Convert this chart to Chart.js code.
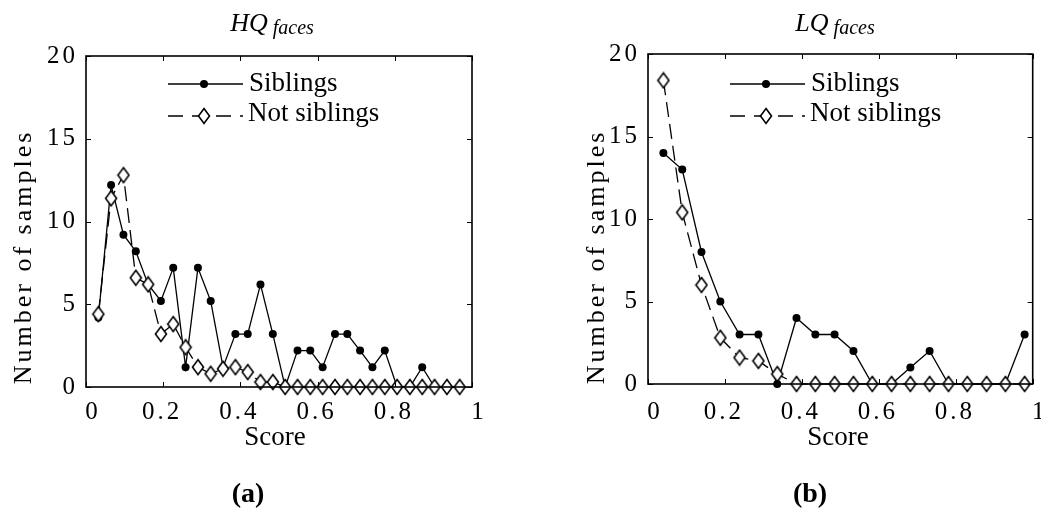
<!DOCTYPE html>
<html>
<head>
<meta charset="utf-8">
<script src="https://cdn.jsdelivr.net/npm/chart.js@4.4.1/dist/chart.umd.min.js"></script>
<style>
  html, body { margin: 0; padding: 0; background: #fff; }
  #wrap { position: relative; width: 1041px; height: 512px; overflow: hidden; }
  canvas { position: absolute; top: 0; }
  #hqChart { left: 0; }
  #lqChart { left: 520px; }
</style>
</head>
<body>
<div id="wrap">
  <canvas id="hqChart" width="520" height="512"></canvas>
  <canvas id="lqChart" width="521" height="512"></canvas>
</div>
<script>
// high quality faces: score bins and counts
var hqScores = [0.032, 0.065, 0.097, 0.129, 0.161, 0.194, 0.226, 0.258, 0.290, 0.323,
                0.355, 0.387, 0.419, 0.452, 0.484, 0.516, 0.548, 0.581, 0.613, 0.645,
                0.677, 0.710, 0.742, 0.774, 0.806, 0.839, 0.871, 0.903, 0.935, 0.968];
var hqSiblings = [4.2, 12.2, 9.2, 8.2, 6.2, 5.2, 7.2, 1.2, 7.2, 5.2,
                  1.2, 3.2, 3.2, 6.2, 3.2, 0, 2.2, 2.2, 1.2, 3.2,
                  3.2, 2.2, 1.2, 2.2, 0, 0, 1.2, 0, 0, 0];
var hqNotSiblings = [4.4, 11.4, 12.8, 6.6, 6.2, 3.2, 3.8, 2.4, 1.2, 0.8,
                     1.1, 1.2, 0.9, 0.3, 0.3, 0, 0, 0, 0, 0,
                     0, 0, 0, 0, 0, 0, 0, 0, 0, 0];

// low quality faces
var lqScores = [0.040, 0.089, 0.139, 0.188, 0.238, 0.287, 0.336, 0.386, 0.435, 0.485,
                0.534, 0.583, 0.633, 0.682, 0.732, 0.781, 0.830, 0.880, 0.929, 0.979];
var lqSiblings = [14, 13, 8, 5, 3, 3, 0, 4, 3, 3, 2, 0, 0, 1, 2, 0, 0, 0, 0, 3];
var lqNotSiblings = [18.4, 10.4, 6.0, 2.8, 1.6, 1.4, 0.6, 0, 0, 0, 0, 0, 0, 0, 0, 0, 0, 0, 0, 0];

var xTicks = [0, 0.2, 0.4, 0.6, 0.8, 1];
var xTickLabels = ['0', '0.2', '0.4', '0.6', '0.8', '1'];
var yTicks = [0, 5, 10, 15, 20];
var yTickLabels = ['0', '5', '10', '15', '20'];
var seriesNames = ['Siblings', 'Not siblings'];

var SERIF = '"Liberation Serif", "Times New Roman", serif';

function toPoints(xs, ys) {
  return xs.map(function (x, i) { return { x: x, y: ys[i] }; });
}

// open diamond marker, slightly taller than wide
var diamond = document.createElement('canvas');
diamond.width = 14;
diamond.height = 18;
(function () {
  var c = diamond.getContext('2d');
  c.beginPath();
  c.moveTo(7, 1.5); c.lineTo(12.5, 9); c.lineTo(7, 16.5); c.lineTo(1.5, 9);
  c.closePath();
  c.fillStyle = '#fff';
  c.fill();
  c.lineWidth = 1.6;
  c.strokeStyle = '#000';
  c.stroke();
})();

// boxed axes with inward ticks, labels, titles and legend
var axesBox = {
  id: 'axesBox',
  afterDraw: function (chart, args, o) {
    var ctx = chart.ctx, a = chart.chartArea;
    var xs = chart.scales.x, ys = chart.scales.y;
    ctx.save();
    ctx.strokeStyle = '#000';
    ctx.fillStyle = '#000';
    ctx.lineWidth = 1.6;
    ctx.setLineDash([]);
    ctx.strokeRect(a.left, a.top, a.right - a.left, a.bottom - a.top);

    ctx.lineWidth = 1;
    ctx.beginPath();
    xTicks.forEach(function (v) {
      var px = Math.round(xs.getPixelForValue(v)) + 0.5;
      ctx.moveTo(px, a.bottom); ctx.lineTo(px, a.bottom - 5);
      ctx.moveTo(px, a.top); ctx.lineTo(px, a.top + 5);
    });
    yTicks.forEach(function (v) {
      var py = Math.round(ys.getPixelForValue(v)) + 0.5;
      ctx.moveTo(a.left, py); ctx.lineTo(a.left + 5, py);
      ctx.moveTo(a.right, py); ctx.lineTo(a.right - 5, py);
    });
    ctx.stroke();

    // tick labels
    ctx.font = '25px ' + SERIF;
    ctx.letterSpacing = '3px';
    ctx.textBaseline = 'middle';
    ctx.textAlign = 'center';
    xTicks.forEach(function (v, i) {
      var t = xTickLabels[i];
      var nudge = t.length === 1 ? 7 : -1;
      ctx.fillText(t, xs.getPixelForValue(v) + nudge, 412);
    });
    ctx.textAlign = 'right';
    yTicks.forEach(function (v, i) {
      ctx.fillText(yTickLabels[i], a.left - 8, ys.getPixelForValue(v));
    });

    // y title
    ctx.save();
    ctx.font = '26px ' + SERIF;
    ctx.letterSpacing = '3px';
    ctx.textAlign = 'center';
    ctx.translate(o.yTitleX, 257);
    ctx.rotate(-Math.PI / 2);
    ctx.fillText('Number of samples', 0, 0);
    ctx.restore();

    ctx.letterSpacing = '0px';
    ctx.textAlign = 'center';
    ctx.font = '27px ' + SERIF;
    ctx.fillText('Score', o.scoreX, 438);

    // panel letter
    ctx.font = 'bold 28px ' + SERIF;
    ctx.fillText(o.panel, o.panelX, 495);

    // italic title with subscript
    ctx.textBaseline = 'alphabetic';
    ctx.textAlign = 'left';
    ctx.font = 'italic 26px ' + SERIF;
    var w1 = ctx.measureText(o.title).width;
    ctx.font = 'italic 20px ' + SERIF;
    var w2 = ctx.measureText('faces').width;
    var tx = o.titleX - (w1 + 5 + w2) / 2;
    ctx.font = 'italic 26px ' + SERIF;
    ctx.fillText(o.title, tx, 31);
    ctx.font = 'italic 20px ' + SERIF;
    ctx.fillText('faces', tx + w1 + 5, 34);

    // legend
    var lx0 = o.legendX, lx1 = o.legendX + 75, mx = o.legendX + 36;
    ctx.lineWidth = 1.3;
    ctx.beginPath();
    ctx.moveTo(lx0, 84); ctx.lineTo(lx1, 84);
    ctx.stroke();
    ctx.beginPath();
    ctx.arc(mx, 84, 4, 0, Math.PI * 2);
    ctx.fill();
    ctx.setLineDash([15, 9]);
    ctx.beginPath();
    ctx.moveTo(lx0, 116); ctx.lineTo(lx1, 116);
    ctx.stroke();
    ctx.setLineDash([]);
    ctx.drawImage(diamond, mx - diamond.width / 2, 116 - diamond.height / 2);
    ctx.font = '27px ' + SERIF;
    ctx.textBaseline = 'middle';
    ctx.fillText(seriesNames[0], lx1 + 6, 84);
    ctx.fillText(seriesNames[1], lx1 + 5, 114);
    ctx.restore();
  }
};

function makeChart(id, scores, sib, notSib, pad, box) {
  return new Chart(document.getElementById(id).getContext('2d'), {
    type: 'line',
    data: {
      datasets: [{
        label: seriesNames[0],
        data: toPoints(scores, sib),
        borderColor: '#000',
        borderWidth: 1.3,
        pointRadius: 4,
        pointBorderWidth: 0,
        pointBackgroundColor: '#000',
        clip: false,
        order: 2
      }, {
        label: seriesNames[1],
        data: toPoints(scores, notSib),
        borderColor: '#000',
        borderWidth: 1.3,
        borderDash: [15, 7],
        pointStyle: diamond,
        pointRadius: 7,
        clip: false,
        order: 1
      }]
    },
    options: {
      responsive: false,
      animation: false,
      devicePixelRatio: 1,
      layout: { padding: pad },
      scales: {
        x: { type: 'linear', min: 0, max: 1, display: false },
        y: { min: 0, max: 20, display: false }
      },
      plugins: {
        legend: { display: false },
        tooltip: { enabled: false },
        axesBox: box
      }
    },
    plugins: [axesBox]
  });
}

makeChart('hqChart', hqScores, hqSiblings, hqNotSiblings,
  { left: 86, right: 48, top: 56, bottom: 125 },
  { title: 'HQ', titleX: 272, yTitleX: 24, scoreX: 275, panel: '(a)', panelX: 248, legendX: 168 });

makeChart('lqChart', lqScores, lqSiblings, lqNotSiblings,
  { left: 128, right: 8, top: 54, bottom: 128 },
  { title: 'LQ', titleX: 315, yTitleX: 77, scoreX: 318, panel: '(b)', panelX: 290, legendX: 210 });
</script>
</body>
</html>
